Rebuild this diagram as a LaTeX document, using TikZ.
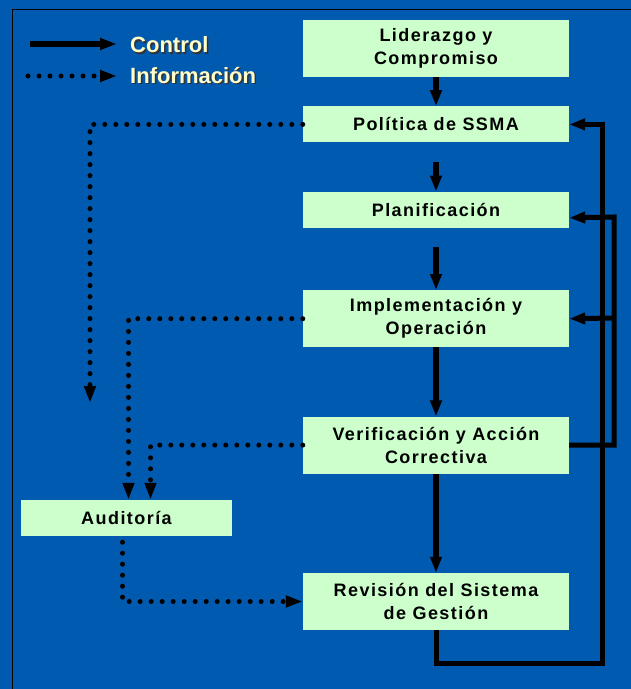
\documentclass[tikz,border=0pt]{standalone}
\usepackage{fontspec}
\setmainfont{Liberation Sans}
\usepackage{tikz}
\usetikzlibrary{arrows.meta,positioning}
\definecolor{bgblue}{RGB}{0,90,175}
\definecolor{boxgreen}{RGB}{204,255,204}
\definecolor{legyellow}{RGB}{255,255,204}
\tikzstyle{box} = [rectangle, fill=boxgreen, text=black, align=center, font=\bfseries\fontsize{18}{23}\selectfont\addfontfeatures{LetterSpace=8}, minimum width=266pt, minimum height=36pt, inner sep=0pt]
\tikzstyle{box2} = [box, minimum height=57pt]
\tikzstyle{ctrl} = [draw, line width=6pt, -{Triangle[length=16pt,width=11pt]}]
\tikzstyle{legctrl} = [draw, line width=5.5pt, -{Triangle[length=17pt,width=11pt]}]
\tikzstyle{fback} = [draw, line width=5pt, -{Triangle[length=16pt,width=11pt]}]
\tikzstyle{info} = [draw, line width=5pt, line cap=round, dash pattern=on 0pt off 11pt, -{Triangle[length=17pt,width=11pt]}]
\tikzstyle{legtext} = [anchor=base west, inner sep=0pt, text=legyellow, font=\bfseries\fontsize{22}{26}\selectfont]
\tikzstyle{legshadow} = [legtext, text=black!80]

\begin{document}
\begin{tikzpicture}[x=1pt, y=-1pt]

\useasboundingbox (0,0) rectangle (631,689);
\fill[bgblue] (0,0) rectangle (631,689);
\draw[line width=1pt] (12,689) -- (12,9) -- (631,9);

% legend =============================
\coordinate (ctl0) at (30,44);
\coordinate (inf0) at (28,76);
\node[legshadow] (ctlsh) at (131.5,54) {Control};
\node[legtext] (ctl) at (130,52.5) {Control};
\node[legshadow] (infsh) at (131.5,84.5) {Información};
\node[legtext] (inf) at (130,83) {Información};

% boxes =============================
\node[box2] (lid) at (436,48.5) {Liderazgo y\\Compromiso};
\node[box, below=29pt of lid] (pol) {Política de SSMA};
\node[box, below=49pt of pol] (plan) {Planificación};
\node[box2, below=62pt of plan] (impl) {Implementación y\\Operación};
\node[box2, below=69pt of impl] (ver) {Verificación y Acción\\Correctiva};
\node[box2, below=99pt of ver] (rev) {Revisión del Sistema\\de Gestión};
\node[box, minimum width=211pt] (aud) at (126.5,518) {Auditoría};

% turns of the feedback lines
\coordinate (fb1) at (602,663);
\coordinate (fb2) at (614,217);
\coordinate (fb3) at (614,318);
\coordinate (polend) at (90,403);

%edges
\path[legctrl, shorten >=13pt] (ctl0) -- (ctl0 -| ctl.west);
\path[info, shorten >=13pt] (inf0) -- (inf0 -| inf.west);

\path[ctrl] (lid) -- (pol);
\path[ctrl, shorten <=19pt] (pol) -- (plan);
\path[ctrl, shorten <=19pt] (plan) -- (impl);
\path[ctrl] (impl) -- (ver);
\path[ctrl] (ver) -- (rev);

\path[fback] (rev.south) |- (fb1) |- (pol.east);
\path[fback] (ver.east) -| (fb2) -- ([yshift=-8pt]plan.east);
\path[fback] (fb3) -- (impl.east);

\path[info] (pol.west) -| (polend);
\path[info] (impl.west) -| ([xshift=2pt]aud.north);
\path[info] (ver.west) -| ([xshift=24pt]aud.north);
\path[info, shorten <=6pt] ([xshift=-4pt]aud.south) |- (rev.west);

\end{tikzpicture}
\end{document}
